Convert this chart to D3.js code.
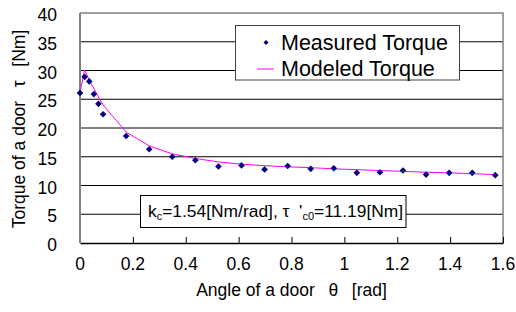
<!DOCTYPE html>
<html>
<head>
<meta charset="utf-8">
<script src="https://cdn.jsdelivr.net/npm/d3@7"></script>
<style>
  body { margin: 0; background: #fff; }
  svg { display: block; font-family: "Liberation Sans", Arial, sans-serif; }
</style>
</head>
<body>
<svg width="516" height="312"></svg>
<script>
// ---- data
const angles = [0, 0.0175, 0.0349, 0.0524, 0.0698, 0.0873, 0.1745, 0.2618, 0.3491, 0.4363,
  0.5236, 0.6109, 0.6981, 0.7854, 0.8727, 0.9599, 1.0472, 1.1345, 1.2217, 1.3090,
  1.3963, 1.4835, 1.5708];
const measured = [26.1, 28.9, 28.1, 25.9, 24.2, 22.4, 18.6, 16.3, 15.0, 14.4,
  13.3, 13.5, 12.8, 13.4, 12.9, 13.0, 12.2, 12.3, 12.6, 11.9,
  12.2, 12.2, 11.8];
const modeled = [26.2, 30.1, 28.3, 26.9, 25.4, 24.0, 19.3, 16.9, 15.5, 14.7,
  14.1, 13.7, 13.45, 13.25, 13.1, 12.9, 12.75, 12.6, 12.45, 12.3,
  12.2, 12.05, 11.9];
const xTicks = [0, 0.2, 0.4, 0.6, 0.8, 1, 1.2, 1.4, 1.6];
const yTicks = [0, 5, 10, 15, 20, 25, 30, 35, 40];

const svg = d3.select('svg');
const plotL = 80, plotR = 503, plotT = 13, plotB = 243;
const gap = ' \u2002';   // wide gap as in the original labels

const x = d3.scaleLinear().domain([0, 1.6]).range([plotL, plotR]);
const y = d3.scaleLinear().domain([0, 40]).range([plotB, plotT]);

// ---- grid
svg.append('g').selectAll('line').data(yTicks.slice(1, -1)).join('line')
  .attr('x1', plotL).attr('x2', plotR)
  .attr('y1', d => y(d)).attr('y2', d => y(d))
  .attr('stroke', '#000').attr('stroke-width', 1);

// frame (top, right)
svg.append('path')
  .attr('d', `M${plotL},${y(40)}H${plotR}V${plotB}`)
  .attr('fill', 'none').attr('stroke', '#808080').attr('stroke-width', 1.5);

// ---- x axis (ticks inside)
const xAxis = d3.axisBottom(x).tickValues(xTicks).tickSizeInner(-6).tickSizeOuter(0).tickFormat(() => '');
const gx = svg.append('g').attr('transform', `translate(0,${plotB})`).call(xAxis);
gx.select('.domain').attr('stroke', '#000').attr('stroke-width', 1.5);
gx.selectAll('.tick line').attr('stroke', '#000');

svg.append('g').selectAll('text').data(xTicks).join('text')
  .attr('x', d => x(d)).attr('y', 270)
  .attr('text-anchor', 'middle')
  .attr('font-size', 17.5)
  .text(d => d3.format('')(d));

// ---- y axis
svg.append('line')
  .attr('x1', plotL).attr('x2', plotL).attr('y1', plotT).attr('y2', plotB)
  .attr('stroke', '#808080').attr('stroke-width', 2);

svg.append('g').selectAll('text').data(yTicks).join('text')
  .attr('x', 57).attr('y', d => y(d) + 8)
  .attr('text-anchor', 'end')
  .attr('font-size', 17.5)
  .text(d => d);

// ---- axis titles
svg.append('text')
  .attr('x', (plotL + plotR) / 2).attr('y', 296)
  .attr('text-anchor', 'middle').attr('font-size', 17.5)
  .style('white-space', 'pre')
  .text(`Angle of a door${gap}θ${gap}[rad]`);

svg.append('text')
  .attr('transform', `translate(25,${(plotT + plotB) / 2 + 1}) rotate(-90)`)
  .attr('text-anchor', 'middle').attr('font-size', 17.5)
  .style('white-space', 'pre')
  .text(`Torque of a door${gap}τ${gap}[Nm]`);

// ---- modeled line
const pts = angles.map((a, i) => ({ a, m: measured[i], f: modeled[i] }));
svg.append('path').datum(pts)
  .attr('d', d3.line().x(d => x(d.a)).y(d => y(d.f)))
  .attr('fill', 'none').attr('stroke', '#ff00ff').attr('stroke-width', 1);

// ---- measured points
const diamond = d3.symbol().type(d3.symbolDiamond2).size(28);
svg.append('g').selectAll('path').data(pts).join('path')
  .attr('transform', d => `translate(${x(d.a)},${y(d.m)})`)
  .attr('d', diamond)
  .attr('fill', '#000080');

// ---- legend
const lg = svg.append('g');
lg.append('rect').attr('x', 235.5).attr('y', 25.5).attr('width', 224).attr('height', 54.5)
  .attr('fill', '#fff').attr('stroke', '#404040').attr('stroke-width', 1);
lg.append('path').attr('transform', 'translate(266,42.5)').attr('d', d3.symbol().type(d3.symbolDiamond2).size(16))
  .attr('fill', '#000080');
lg.append('line').attr('x1', 257).attr('x2', 274).attr('y1', 69).attr('y2', 69)
  .attr('stroke', '#ff00ff');
lg.append('text').attr('x', 281).attr('y', 50).attr('font-size', 21.5).text('Measured Torque');
lg.append('text').attr('x', 281).attr('y', 76).attr('font-size', 21.5).text('Modeled Torque');

// ---- annotation
const an = svg.append('g');
an.append('rect').attr('x', 140.5).attr('y', 195.5).attr('width', 265.5).attr('height', 32)
  .attr('fill', '#fff').attr('stroke', '#000');
const t = an.append('text').attr('x', 148).attr('y', 217).attr('font-size', 17.4).style('white-space', 'pre');
t.append('tspan').text('k');
t.append('tspan').attr('font-size', 11).attr('dy', 3).text('c');
t.append('tspan').attr('dy', -3).text('=1.54[Nm/rad], τ  \'');
t.append('tspan').attr('font-size', 11).attr('dy', 3).text('c0');
t.append('tspan').attr('dy', -3).text('=11.19[Nm]');
</script>
</body>
</html>
